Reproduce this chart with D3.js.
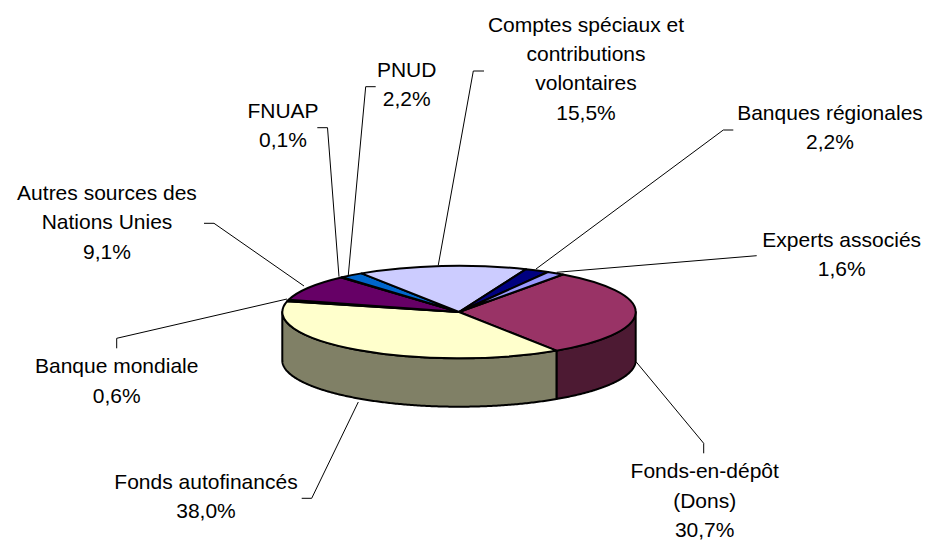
<!DOCTYPE html>
<html>
<head>
<meta charset="utf-8">
<script src="https://d3js.org/d3.v7.min.js"></script>
<style>
  body { margin: 0; background: #fff; }
  text { font-family: "Liberation Sans", Arial, sans-serif; font-size: 21px; fill: #000; }
</style>
</head>
<body>
<div id="chart"></div>
<script>
  // ---------------------------//
  //            DATA            //
  // ---------------------------//

  var categories = ["Fonds-en-dépôt (Dons)", "Fonds autofinancés", "Banque mondiale",
    "Autres sources des Nations Unies", "FNUAP", "PNUD",
    "Comptes spéciaux et contributions volontaires", "Banques régionales", "Experts associés"];
  var values = [30.7, 38.0, 0.6, 9.1, 0.1, 2.2, 15.5, 2.2, 1.6];
  var topColors = ["#993366", "#FFFFCC", "#660066", "#660066", "#660066", "#0066CC", "#CCCCFF", "#000080", "#9999FF"];
  var sideColors = ["#4D1A33", "#808066", "#330033", "#330033", "#330033", "#003366", "#666680", "#000040", "#4D4D80"];

  // wrapped label lines, same order as categories
  var labelLines = [
    ["Fonds-en-dépôt", "(Dons)"],
    ["Fonds autofinancés"],
    ["Banque mondiale"],
    ["Autres sources des", "Nations Unies"],
    ["FNUAP"],
    ["PNUD"],
    ["Comptes spéciaux et", "contributions", "volontaires"],
    ["Banques régionales"],
    ["Experts associés"]
  ];

  // ---------------------------//
  //           LAYOUT           //
  // ---------------------------//

  var width = 927;
  var height = 541;
  var cx = 459, cy = 312;
  var rx = 176.7, ry = 46.3, depth = 48.4;
  var startDeg = 36;
  var lineGap = 29.4;

  // label centre x / first baseline y
  var labelPos = [
    [704.7, 478.3], [206, 488.5], [116.7, 373.3], [107, 200], [283, 117.7],
    [406.7, 76.7], [586, 31.5], [830, 120], [841.7, 246.7]
  ];

  var leaders = [
    [[703.7, 453.3], [703.7, 443.3], [636, 361.7]],
    [[301.7, 498.3], [311.7, 498.3], [358.3, 402]],
    [[116.7, 348.3], [116.7, 338.3], [287, 299]],
    [[204, 223.3], [214, 223.3], [304, 286]],
    [[317.3, 127.7], [327.5, 127.7], [339, 276.7]],
    [[375.7, 86.7], [365.7, 86.7], [348.3, 275]],
    [[484, 71], [473.3, 71], [438.3, 265]],
    [[733.3, 130], [723.3, 130], [536, 269]],
    [[756.7, 255.7], [556.7, 272.3]]
  ];

  // ---------------------------//
  //          CONTAINER         //
  // ---------------------------//

  var svg = d3.select("#chart")
    .append("svg")
    .attr("width", width)
    .attr("height", height)
    .attr("viewBox", [0, 0, width, height])
    .style("display", "block");

  var rad = Math.PI / 180;
  var pie = d3.pie()
    .sort(null)
    .startAngle(startDeg * rad)
    .endAngle((startDeg + 360) * rad);

  var slices = pie(values);

  // ---------------------------//
  //         SIDE WALLS         //
  // ---------------------------//

  var wall = d3.area()
    .x(function(a) { return cx + rx * Math.sin(a); })
    .y0(function(a) { return cy - ry * Math.cos(a); })
    .y1(function(a) { return cy - ry * Math.cos(a) + depth; });

  slices.forEach(function(s, i) {
    // only the front half of the disc shows its wall
    var a0 = Math.max(s.startAngle, 90 * rad);
    var a1 = Math.min(s.endAngle, 270 * rad);
    if (a1 <= a0) return;
    svg.append("path")
      .attr("d", wall(d3.range(a0, a1, 0.01).concat([a1])))
      .attr("fill", sideColors[i])
      .attr("stroke", "#000")
      .attr("stroke-width", 2)
      .attr("stroke-linejoin", "round");
  });

  // ---------------------------//
  //          TOP FACE          //
  // ---------------------------//

  var arc = d3.arc().innerRadius(0).outerRadius(rx);

  svg.append("g")
    .attr("transform", "translate(" + cx + "," + cy + ") scale(1," + (ry / rx) + ")")
    .selectAll("path")
    .data(slices)
    .enter()
    .append("path")
    .attr("d", arc)
    .attr("fill", function(d, i) { return topColors[i]; })
    .attr("stroke", "#000")
    .attr("stroke-width", 2)
    .attr("stroke-linejoin", "round")
    .attr("vector-effect", "non-scaling-stroke");

  // ---------------------------//
  //       LEADERS + LABELS     //
  // ---------------------------//

  var leaderLine = d3.line();

  svg.append("g")
    .selectAll("path")
    .data(leaders)
    .enter()
    .append("path")
    .attr("d", leaderLine)
    .attr("fill", "none")
    .attr("stroke", "#000")
    .attr("stroke-width", 1);

  function pct(v) { return v.toFixed(1).replace(".", ",") + "%"; }

  categories.forEach(function(name, i) {
    var lines = labelLines[i].concat([pct(values[i])]);
    svg.append("g")
      .attr("aria-label", name)
      .selectAll("text")
      .data(lines)
      .enter()
      .append("text")
      .attr("x", labelPos[i][0])
      .attr("y", function(d, j) { return labelPos[i][1] + j * lineGap; })
      .attr("text-anchor", "middle")
      .text(function(d) { return d; });
  });
</script>
</body>
</html>
